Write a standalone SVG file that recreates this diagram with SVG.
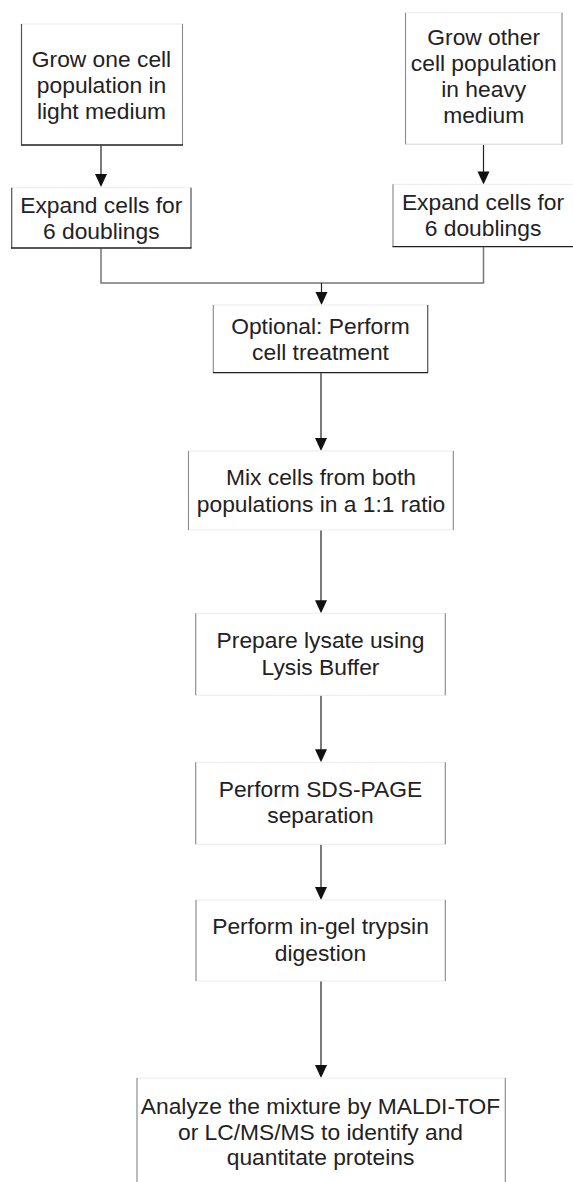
<svg xmlns="http://www.w3.org/2000/svg" width="573" height="1182" viewBox="0 0 573 1182">
<defs>
<style>
.box{fill:#fff;stroke:#ececec;stroke-width:1}
.e1{stroke:#222;stroke-width:1.3}
.e2{stroke:#555;stroke-width:1.2}
.e3{stroke:#8a8a8a;stroke-width:1.1}
.e4{stroke:#dcdcdc;stroke-width:1}
text{font-family:"Liberation Sans",Arial,Helvetica,sans-serif;font-size:22.8px;fill:#222;text-anchor:middle}
.c{fill:none;stroke:#222;stroke-width:1.2}
.cg{fill:none;stroke:#777;stroke-width:1.5}
.ah{fill:#111}
</style>
</defs>
<rect width="573" height="1182" fill="#fff"/>

<g id="connectors">
<line class="c" x1="101" y1="145" x2="101" y2="175"/>
<polygon class="ah" points="95,174 107,174 101,187"/>
<line class="c" x1="483.5" y1="144.3" x2="483.5" y2="172"/>
<polygon class="ah" points="477.5,171.5 489.5,171.5 483.5,184.5"/>
<polyline class="cg" points="101,248 101,283 483.5,283 483.5,246.7"/>
<line class="c" x1="321.5" y1="283" x2="321.5" y2="293"/>
<polygon class="ah" points="315.5,292 327.5,292 321.5,305"/>
<line class="c" x1="321" y1="372.7" x2="321" y2="440"/>
<polygon class="ah" points="315,438 327,438 321,451"/>
<line class="c" x1="321" y1="530" x2="321" y2="602"/>
<polygon class="ah" points="315,600.3 327,600.3 321,613.3"/>
<line class="c" x1="321" y1="695.3" x2="321" y2="751"/>
<polygon class="ah" points="315,749.3 327,749.3 321,762.3"/>
<line class="c" x1="321" y1="844.3" x2="321" y2="889"/>
<polygon class="ah" points="315,887 327,887 321,900"/>
<line class="c" x1="321" y1="981" x2="321" y2="1066"/>
<polygon class="ah" points="315,1065 327,1065 321,1078"/>
</g>

<g id="node-grow-light">
<rect class="box" x="21.5" y="24" width="161" height="121"/>
<line class="e2" x1="21.5" y1="24" x2="21.5" y2="145"/>
<line class="e3" x1="182.5" y1="24" x2="182.5" y2="145"/>
<line class="e1" x1="21" y1="145" x2="183" y2="145"/>
<text x="101.5" y="66.5">Grow one cell</text>
<text x="101.5" y="92.5">population in</text>
<text x="101.5" y="118.5">light medium</text>
</g>

<g id="node-grow-heavy">
<rect class="box" x="405.5" y="12.7" width="156.5" height="131.6"/>
<line class="e3" x1="405.5" y1="12.7" x2="405.5" y2="144.3"/>
<line class="e3" x1="562" y1="12.7" x2="562" y2="144.3"/>
<line class="e4" x1="405.5" y1="144.3" x2="562" y2="144.3"/>
<text x="483.7" y="44.5">Grow other</text>
<text x="483.7" y="70.8">cell population</text>
<text x="483.7" y="97.1">in heavy</text>
<text x="483.7" y="123.4">medium</text>
</g>

<g id="node-expand-light">
<rect class="box" x="11.7" y="187.7" width="179.3" height="60.3"/>
<line class="e2" x1="11.7" y1="187.7" x2="11.7" y2="248"/>
<line class="e2" x1="191" y1="187.7" x2="191" y2="248"/>
<line class="e1" x1="11" y1="248" x2="191.5" y2="248"/>
<text x="101.3" y="213">Expand cells for</text>
<text x="101.3" y="239">6 doublings</text>
</g>

<g id="node-expand-heavy">
<rect class="box" x="393" y="184.3" width="181" height="62.4"/>
<line class="e3" x1="393" y1="184.3" x2="393" y2="246.7"/>
<line class="e1" x1="392.5" y1="246.7" x2="573" y2="246.7"/>
<text x="483" y="210">Expand cells for</text>
<text x="483" y="236">6 doublings</text>
</g>

<g id="node-treatment">
<rect class="box" x="213.3" y="305" width="214.4" height="67.7"/>
<line class="e3" x1="213.3" y1="305" x2="213.3" y2="372.7"/>
<line class="e2" x1="427.7" y1="305" x2="427.7" y2="372.7"/>
<line class="e1" x1="213" y1="372.7" x2="428" y2="372.7"/>
<text x="320.5" y="334.3">Optional: Perform</text>
<text x="320.5" y="360.3">cell treatment</text>
</g>

<g id="node-mix">
<rect class="box" x="188.5" y="451" width="264.8" height="79"/>
<line class="e3" x1="188.5" y1="451" x2="188.5" y2="530"/>
<line class="e3" x1="453.3" y1="451" x2="453.3" y2="530"/>
<text x="321" y="485">Mix cells from both</text>
<text x="321" y="511.5">populations in a 1:1 ratio</text>
</g>

<g id="node-lysate">
<rect class="box" x="195.7" y="613.3" width="249.6" height="82"/>
<line class="e3" x1="195.7" y1="613.3" x2="195.7" y2="695.3"/>
<line class="e3" x1="445.3" y1="613.3" x2="445.3" y2="695.3"/>
<text x="320.5" y="648.3">Prepare lysate using</text>
<text x="320.5" y="675">Lysis Buffer</text>
</g>

<g id="node-sds">
<rect class="box" x="195.7" y="762.3" width="249.6" height="82"/>
<line class="e3" x1="195.7" y1="762.3" x2="195.7" y2="844.3"/>
<line class="e3" x1="445.3" y1="762.3" x2="445.3" y2="844.3"/>
<text x="320.5" y="796.7">Perform SDS-PAGE</text>
<text x="320.5" y="823.3">separation</text>
</g>

<g id="node-digestion">
<rect class="box" x="196" y="900" width="249.3" height="81"/>
<line class="e3" x1="196" y1="900" x2="196" y2="981"/>
<line class="e3" x1="445.3" y1="900" x2="445.3" y2="981"/>
<text x="320.5" y="934.3">Perform in-gel trypsin</text>
<text x="320.5" y="961">digestion</text>
</g>

<g id="node-analyze">
<rect class="box" x="137" y="1078" width="368.3" height="110"/>
<line class="e3" x1="137" y1="1078" x2="137" y2="1182"/>
<line class="e3" x1="505.3" y1="1078" x2="505.3" y2="1182"/>
<text x="320.5" y="1114">Analyze the mixture by MALDI-TOF</text>
<text x="320.5" y="1139.5">or LC/MS/MS to identify and</text>
<text x="320.5" y="1165">quantitate proteins</text>
</g>
</svg>
